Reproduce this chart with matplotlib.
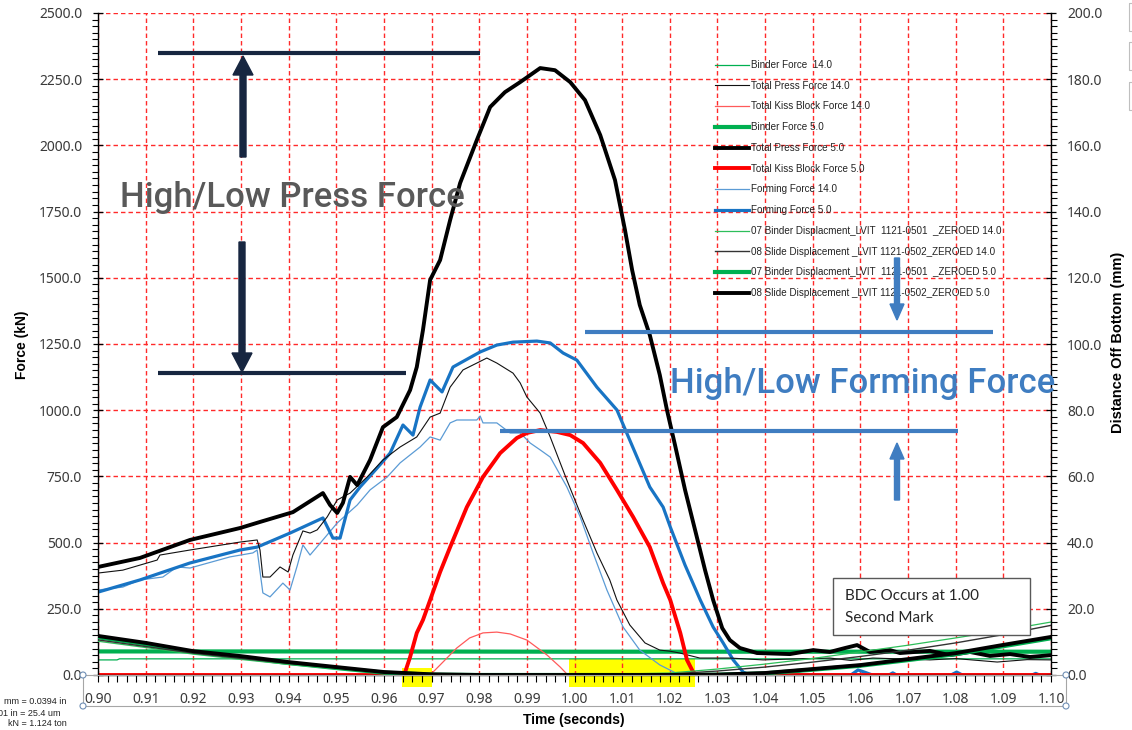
import matplotlib
matplotlib.use('Agg')
import matplotlib.pyplot as plt
from matplotlib.patches import Rectangle, FancyArrow, Circle
from matplotlib.lines import Line2D
from matplotlib.transforms import Affine2D
from matplotlib.ticker import MultipleLocator, FormatStrFormatter

# ---------------- data (time in seconds, force in kN, distance in mm) ----------------
t_press5 = [0.900, 0.9088, 0.9193, 0.9298, 0.934, 0.9409, 0.9472, 0.9487, 0.9502, 0.9514,
            0.9529, 0.9544, 0.9571, 0.9598, 0.9627, 0.9655, 0.9669, 0.9682, 0.9697, 0.9718,
            0.9739, 0.976, 0.9795, 0.9823, 0.9854, 0.9886, 0.9928, 0.9959, 0.9991, 1.0022,
            1.0054, 1.0085, 1.0106, 1.0121, 1.0137, 1.0158, 1.0179, 1.0194, 1.0211, 1.0232,
            1.0253, 1.0274, 1.0291, 1.0310, 1.0326, 1.0347, 1.0383, 1.0452, 1.0501, 1.0536,
            1.0568, 1.0593, 1.062, 1.0662, 1.0683, 1.0746, 1.0788, 1.083, 1.0872, 1.0914,
            1.0956, 1.100]
press5 = [408, 442, 510, 555, 578, 615, 687, 642, 612, 650,
          748, 717, 812, 936, 974, 1076, 1163, 1303, 1492, 1567,
          1718, 1858, 2020, 2145, 2201, 2239, 2292, 2284, 2239, 2171,
          2039, 1869, 1680, 1529, 1397, 1284, 1133, 1001, 868, 699,
          548, 396, 283, 177, 132, 102, 83, 79, 94, 87,
          102, 113, 87, 94, 83, 91, 75, 87, 72, 79,
          68, 75]

t_press14 = [0.9, 0.9052, 0.9124, 0.913, 0.9193, 0.9298, 0.9334, 0.934, 0.9346, 0.9361,
             0.9382, 0.9399, 0.9409, 0.943, 0.9445, 0.946, 0.9481, 0.9502, 0.9529, 0.9565,
             0.9598, 0.9634, 0.9669, 0.9697, 0.9718, 0.9739, 0.9766, 0.9795, 0.9816, 0.9837,
             0.9871, 0.9886, 0.99, 0.9928, 0.9949, 0.9984, 1.0018, 1.0047, 1.0074, 1.0089,
             1.0116, 1.0148, 1.0179, 1.02, 1.0221, 1.0263, 1.0326, 1.0396, 1.045, 1.0536,
             1.058, 1.0626, 1.07, 1.0746, 1.08, 1.0887, 1.095, 1.1]
press14 = [385, 396, 434, 453, 472, 502, 510, 472, 370, 370,
           408, 389, 453, 544, 536, 548, 597, 661, 687, 748,
           812, 861, 899, 974, 989, 1087, 1152, 1178, 1197, 1178,
           1140, 1103, 1050, 989, 899, 736, 585, 461, 359, 283,
           189, 121, 94, 90, 83, 64, 64, 57, 60, 64,
           55, 64, 60, 57, 62, 49, 58, 57]

t_form5 = [0.900, 0.9088, 0.9193, 0.9298, 0.9334, 0.9403, 0.9472, 0.9493, 0.9508, 0.9529,
           0.955, 0.9586, 0.9613, 0.964, 0.9661, 0.9676, 0.9697, 0.9722, 0.9745, 0.976,
           0.9802, 0.9837, 0.9871, 0.9921, 0.9949, 0.9976, 1.0005, 1.0047, 1.0089, 1.0116,
           1.0158, 1.0186, 1.0201, 1.0232, 1.0264, 1.0291, 1.0312, 1.0333, 1.0354, 1.0368,
           1.045, 1.0465, 1.048, 1.058, 1.0595, 1.061, 1.0625, 1.066, 1.0668, 1.0676,
           1.079, 1.0802, 1.0814, 1.096, 1.0968, 1.0976, 1.1]
form5 = [313, 359, 423, 472, 483, 536, 593, 517, 517, 661,
         710, 782, 838, 944, 906, 1012, 1114, 1069, 1163, 1178,
         1220, 1246, 1257, 1261, 1254, 1216, 1189, 1087, 1001, 887,
         710, 634, 559, 415, 283, 181, 121, 57, 11, 0,
         0, 8, 0, 0, 19, 10, 0, 0, 8, 0,
         0, 11, 0, 0, 6, 0, 0]

t_form14 = [0.9, 0.9052, 0.9088, 0.9136, 0.9166, 0.9193, 0.9277, 0.9325, 0.9334, 0.9346,
            0.9361, 0.9388, 0.9403, 0.9418, 0.943, 0.9445, 0.9472, 0.9502, 0.9544, 0.9571,
            0.9607, 0.9634, 0.9676, 0.9697, 0.9718, 0.9739, 0.9753, 0.9795, 0.9802, 0.9808,
            0.9837, 0.9865, 0.9886, 0.9907, 0.9928, 0.9949, 0.9984, 1.0012, 1.0039, 1.0068,
            1.0102, 1.0137, 1.0179, 1.02, 1.0221, 1.1]
form14 = [321, 332, 359, 370, 408, 404, 446, 461, 472, 310,
          295, 347, 321, 412, 491, 453, 510, 574, 642, 699,
          748, 801, 861, 899, 887, 952, 963, 963, 978, 952,
          952, 914, 914, 876, 850, 823, 710, 597, 461, 321,
          181, 94, 38, 19, 0, 0]

t_kiss5 = [0.9, 0.9634, 0.9644, 0.9655, 0.9669, 0.9682, 0.9697, 0.9718, 0.9739, 0.9774,
           0.9808, 0.9844, 0.9879, 0.99, 0.9928, 0.9963, 0.9991, 1.0018, 1.0054, 1.0089,
           1.0123, 1.0158, 1.0186, 1.0201, 1.0222, 1.0236, 1.0249, 1.0257, 1.1]
kiss5 = [0, 0, 8, 68, 159, 208, 283, 389, 483, 634,
         748, 838, 895, 914, 925, 918, 906, 876, 801, 699,
         597, 483, 347, 283, 159, 57, 11, 0, 0]

t_kiss14 = [0.9, 0.9697, 0.9718, 0.9753, 0.978, 0.9808, 0.9837, 0.9865, 0.99, 0.9942, 0.997, 0.9986, 1.1]
kiss14 = [0, 0, 38, 102, 140, 159, 162, 155, 132, 76, 30, 0, 0]

t_binder5 = [0.9, 0.95, 1.0, 1.05, 1.1]
binder5 = [89, 89, 88, 88, 88]
t_binder14 = [0.9, 0.904, 0.9045, 1.1]
binder14 = [57, 57, 61, 61]

t_disp = [0.9, 0.91, 0.92, 0.93, 0.94, 0.95, 0.96, 0.97, 0.98, 1.0,
          1.02, 1.03, 1.04, 1.05, 1.06, 1.07, 1.08, 1.09, 1.1]
slide5_mm = [11.8, 9.7, 7.2, 5.7, 3.9, 2.4, 0.9, 0.2, 0.0, 0.0,
             0.0, 0.1, 0.6, 1.8, 3.0, 4.8, 6.6, 9.1, 11.5]
binderdisp5_mm = [11.4, 9.3, 6.9, 5.4, 3.6, 2.1, 0.7, 0.1, 0.0, 0.0,
                  0.0, 0.1, 0.5, 1.6, 2.8, 4.5, 6.3, 8.7, 11.1]
slide14_mm = [10.6, 8.6, 6.6, 5.0, 3.5, 2.1, 0.9, 0.2, 0.0, 0.0,
              0.3, 1.2, 2.4, 3.9, 5.6, 7.5, 9.7, 12.2, 15.0]
binderdisp14_mm = [10.2, 8.3, 6.3, 4.7, 3.2, 1.9, 0.7, 0.1, 0.0, 0.0,
                   0.6, 1.8, 3.3, 5.0, 7.0, 9.0, 11.2, 13.5, 16.0]

legend_labels = ["Binder Force  14.0", "Total Press Force 14.0", "Total Kiss Block Force 14.0",
                 "Binder Force 5.0", "Total Press Force 5.0", "Total Kiss Block Force 5.0",
                 "Forming Force 14.0", "Forming Force 5.0",
                 "07 Binder Displacment_LVIT  1121-0501  _ZEROED 14.0",
                 "08 Slide Displacement _LVIT 1121-0502_ZEROED 14.0",
                 "07 Binder Displacment_LVIT  1121-0501  _ZEROED 5.0",
                 "08 Slide Displacement _LVIT 1121-0502_ZEROED 5.0"]

# ---------------- figure ----------------
W, H = 1132, 730
fig = plt.figure(figsize=(W / 100, H / 100), dpi=100)
fig.patch.set_facecolor('white')
L, R, T, B = 98, 1051, 13, 675
ax = fig.add_axes([L / W, 1 - B / H, (R - L) / W, (B - T) / H])
ax2 = ax.twinx()
PX = Affine2D().scale(1 / W, -1 / H).translate(0, 1) + fig.transFigure

tickfont = 'Noto Sans'
tickcolor = '#3A3A3A'

ax.set_xlim(0.90, 1.10)
ax.set_ylim(0, 2500)
ax2.set_ylim(0, 200)
ax.xaxis.set_major_locator(MultipleLocator(0.01))
ax.xaxis.set_minor_locator(MultipleLocator(0.002))
ax.yaxis.set_major_locator(MultipleLocator(250))
ax.yaxis.set_minor_locator(MultipleLocator(25))
ax2.yaxis.set_major_locator(MultipleLocator(20))
ax2.yaxis.set_minor_locator(MultipleLocator(2))
ax.xaxis.set_major_formatter(FormatStrFormatter('%.2f'))
ax.yaxis.set_major_formatter(FormatStrFormatter('%.1f'))
ax2.yaxis.set_major_formatter(FormatStrFormatter('%.1f'))

ax.grid(True, which='major', color='#FF2A2A', linestyle=(0, (3.2, 2.2)), linewidth=1.0)
for a in (ax, ax2):
    a.spines['top'].set_visible(False)
ax.spines['right'].set_visible(False)
ax2.spines['left'].set_visible(False)
ax2.spines['bottom'].set_visible(False)
for sp in (ax.spines['left'], ax.spines['bottom'], ax2.spines['right']):
    sp.set_color('black')
    sp.set_linewidth(1.0)

ax.tick_params(axis='y', which='major', direction='inout', length=7, width=0.9, pad=8,
               labelsize=10, labelcolor=tickcolor)
ax.tick_params(axis='y', which='minor', direction='out', length=4, width=0.8)
ax.tick_params(axis='x', which='both', direction='out', length=5, width=0.8, pad=7,
               labelsize=10, labelcolor=tickcolor)
ax2.tick_params(axis='y', which='major', direction='inout', length=7, width=0.9, pad=8,
                labelsize=10, labelcolor=tickcolor)
ax2.tick_params(axis='y', which='minor', direction='out', length=4, width=0.8)
for lab in ax.get_xticklabels() + ax.get_yticklabels() + ax2.get_yticklabels():
    lab.set_fontfamily(tickfont)

# highlighter marks
for (x0, y0, w, h) in [(402, 668, 30, 19), (569, 659, 126, 28)]:
    ax.add_patch(Rectangle((x0, y0), w, h, transform=PX, facecolor='#FFFF00',
                           edgecolor='none', clip_on=False, zorder=0.4))

# force series (left axis)
green = '#00B050'
l_b14, = ax.plot(t_binder14, binder14, color=green, lw=0.9, zorder=2)
l_b5, = ax.plot(t_binder5, binder5, color=green, lw=3.0, zorder=2)
l_f14, = ax.plot(t_form14, form14, color='#5B9BD5', lw=0.9, zorder=2)
l_f5, = ax.plot(t_form5, form5, color='#1874C4', lw=2.3, zorder=2)
l_p14, = ax.plot(t_press14, press14, color='#111111', lw=0.8, zorder=2)
l_k14, = ax.plot(t_kiss14, kiss14, color='#FF5A5A', lw=0.9, zorder=2)
l_k5, = ax.plot(t_kiss5, kiss5, color='#FF0000', lw=2.8, zorder=2.1)
l_p5, = ax.plot(t_press5, press5, color='black', lw=2.8, zorder=2.2)

# displacement series (right axis)
l_bd5, = ax2.plot(t_disp, binderdisp5_mm, color=green, lw=3.0)
l_bd14, = ax2.plot(t_disp, binderdisp14_mm, color='#2DBE5A', lw=0.9)
l_sd14, = ax2.plot(t_disp, slide14_mm, color='#333333', lw=1.0)
l_sd5, = ax2.plot(t_disp, slide5_mm, color='black', lw=2.8)

handles = [l_b14, l_p14, l_k14, l_b5, l_p5, l_k5, l_f14, l_f5, l_bd14, l_sd14, l_bd5, l_sd5]
leg = ax2.legend(handles, legend_labels, loc='upper left',
                 bbox_to_anchor=(715 / W, 1 - 60 / H), bbox_transform=fig.transFigure,
                 frameon=False, handlelength=3.4, handletextpad=0.25, labelspacing=1.09,
                 borderpad=0, borderaxespad=0,
                 prop={'family': 'Liberation Sans', 'size': 7.1})
for txt in leg.get_texts():
    txt.set_color('#222222')

# axis titles
fig.text(22, 345, 'Force (kN)', transform=PX, rotation=90, ha='center', va='center',
         fontsize=10, fontweight='bold', family='Liberation Sans')
fig.text(1118, 342, 'Distance Off Bottom (mm)', transform=PX, rotation=90, ha='center',
         va='center', fontsize=10.5, fontweight='bold', family='Liberation Sans')
fig.text(574, 720, 'Time (seconds)', transform=PX, ha='center', va='center',
         fontsize=10, fontweight='bold', family='Liberation Sans')

# excel selection box around x axis labels
fig.add_artist(Rectangle((83, 675), 983, 31, transform=PX, fill=False, edgecolor='#A6A6A6',
                         lw=0.8, zorder=3))
for (cx, cy) in [(83, 675), (83, 706), (1066, 675), (1066, 706)]:
    fig.add_artist(Circle((cx, cy), 3, transform=PX, facecolor='white', edgecolor='#6F8FB5',
                          lw=0.8, zorder=3.1))
for y0 in (3, 42, 82):
    fig.add_artist(Rectangle((1129, y0), 12, 28, transform=PX, fill=False,
                             edgecolor='#BFBFBF', lw=0.8, zorder=3))

# unit conversion note (partly cut off)
for (xr, yc, s) in [(66, 702, 'mm = 0.0394 in'), (61, 713, '01 in = 25.4 um'),
                    (67, 724, 'kN = 1.124 ton')]:
    fig.text(xr, yc, s, transform=PX, ha='right', va='center', fontsize=6.5,
             family='Liberation Sans', color='#222222')

# press force annotation
navy = '#172640'
for (x0, x1, y) in [(158, 480, 53), (158, 406, 373)]:
    fig.add_artist(Line2D([x0, x1], [y, y], transform=PX, color=navy, lw=3.0,
                          solid_capstyle='butt', zorder=5))
fig.add_artist(FancyArrow(243, 157, 0, -101, width=6, head_width=20, head_length=19,
                          length_includes_head=True, transform=PX, color=navy, zorder=5))
fig.add_artist(FancyArrow(242, 242, 0, 130, width=6, head_width=20, head_length=19,
                          length_includes_head=True, transform=PX, color=navy, zorder=5))
fig.text(120, 197, 'High/Low Press Force', transform=PX, ha='left', va='center',
         fontsize=25, color='#595959', family='Roboto', fontweight='medium', zorder=5)

# forming force annotation
blue = '#3F7DC1'
for (x0, x1, y) in [(585, 993, 332), (500, 958, 431)]:
    fig.add_artist(Line2D([x0, x1], [y, y], transform=PX, color=blue, lw=3.0,
                          solid_capstyle='butt', zorder=5))
fig.add_artist(FancyArrow(897, 258, 0, 62, width=5, head_width=14, head_length=16,
                          length_includes_head=True, transform=PX, color=blue, zorder=5))
fig.add_artist(FancyArrow(897, 500, 0, -57, width=5, head_width=14, head_length=16,
                          length_includes_head=True, transform=PX, color=blue, zorder=5))
fig.text(670, 383, 'High/Low Forming Force', transform=PX, ha='left', va='center',
         fontsize=25, color=blue, family='Roboto', fontweight='medium', zorder=5)

# BDC note
fig.add_artist(Rectangle((833, 578), 197, 57, transform=PX, facecolor='white',
                         edgecolor='#595959', lw=1.0, zorder=5))
fig.text(845, 596, 'BDC Occurs at 1.00', transform=PX, ha='left', va='center',
         fontsize=11, family='Lato', color='#262626', zorder=6)
fig.text(845, 618, 'Second Mark', transform=PX, ha='left', va='center',
         fontsize=11, family='Lato', color='#262626', zorder=6)

fig.savefig('out.png', dpi=100)
